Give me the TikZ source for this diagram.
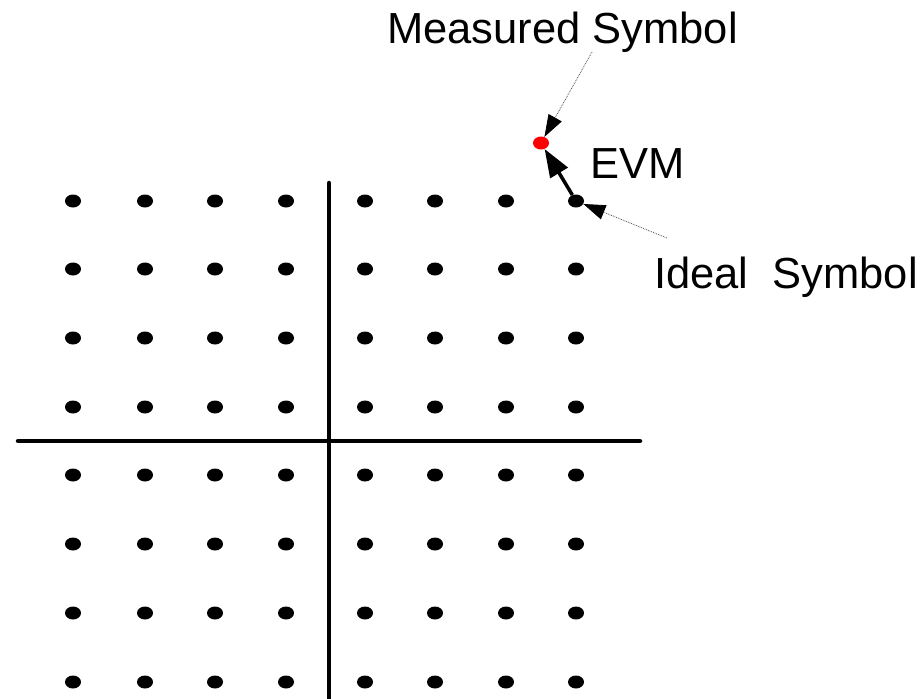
\documentclass[tikz,border=0pt]{standalone}
\usepackage{fontspec}
\setmainfont{Liberation Sans}
\usetikzlibrary{arrows.meta,shapes.geometric}
\tikzset{
  pt/.style={ellipse, fill=black, inner sep=0pt, minimum width=16pt, minimum height=13pt},
  meas/.style={pt, fill=red},
  axis/.style={line width=4.5pt, line cap=round},
  lbl/.style={anchor=base west, inner sep=0pt, font=\fontsize{43.5}{43.5}\selectfont},
  callout/.style={black!70, densely dotted, line width=0.8pt, -{Triangle[length=22pt, width=15pt, color=black]}},
  err/.style={line width=3.5pt, -{Triangle[length=28pt, width=20pt]}},
}

\begin{document}
\begin{tikzpicture}[x=1pt, y=-1pt]
  \useasboundingbox (0,0) rectangle (922,699);
  % constellation
  \foreach \x [count=\i] in {73,145,215,286,365,435,506,576}
    \foreach \y [count=\j] in {201,269,338,407,475,544,613,682}
      \node[pt] (p\i\j) at (\x,\y) {};
  % axes
  \draw[axis] (329,183) -- (329,699);
  \draw[axis] (18,441) -- (640,441);
  % measured point and labels
  \node[meas] (meas) at (541,143) {};
  \node[lbl] (mlabel) at (387,43) {Measured Symbol};
  \node[lbl] (elabel) at (590,178) {EVM};
  \node[lbl] (ilabel) at (654,288) {Ideal\ \ Symbol};
  \coordinate (mtail) at (592,52);
  \coordinate (itail) at (667,238);
  \draw[callout] (mtail) -- (meas);
  \draw[callout] (itail) -- (p81);
  \draw[err] (p81) -- (meas);
\end{tikzpicture}
\end{document}
